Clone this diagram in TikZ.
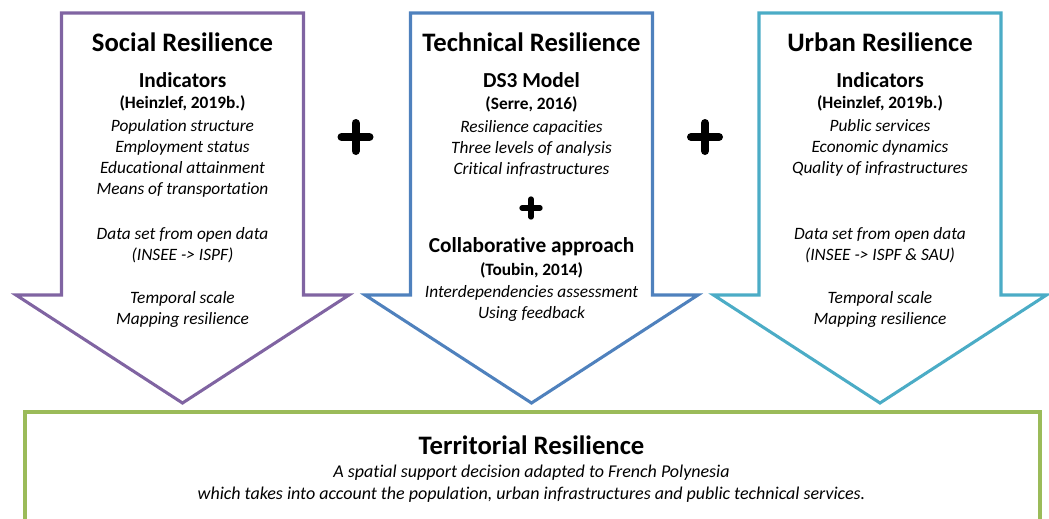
\documentclass[tikz,border=0pt]{standalone}
\usepackage{fontspec}
\setmainfont{Carlito}[Ligatures=NoCommon]
\usepackage{xcolor}
\definecolor{socialpurple}{HTML}{8064A2}
\definecolor{techblue}{HTML}{4F81BD}
\definecolor{urbancyan}{HTML}{4BACC6}
\definecolor{terrgreen}{HTML}{9BBB59}
\tikzset{
  title/.style={font=\fontsize{20}{24}\selectfont\bfseries},
  head/.style={font=\fontsize{16}{19}\selectfont\bfseries},
  cite/.style={font=\fontsize{13}{16}\selectfont\bfseries},
  item/.style={font=\fontsize{13}{15.75}\selectfont\itshape, align=center},
  plussign/.style={line width=6pt, line cap=round},
}

\begin{document}
\begin{tikzpicture}[x=0.75pt,y=-0.75pt]
\useasboundingbox (0,0) rectangle (1049,518);
% the three arrows
\foreach \cx/\col in {182.5/socialpurple,531.5/techblue,880/urbancyan}
\draw[\col,line width=2.3pt,line join=miter] (\cx-121,13) -- (\cx+121,13) -- (\cx+121,295) -- (\cx+166.5,295) -- (\cx,403) -- (\cx-166.5,295) -- (\cx-121,295) -- cycle;
% territorial box, open at the bottom
\draw[terrgreen,line width=2.4pt] (25,540) -- (25,412) -- (1040,412) -- (1040,540);
% plus signs
\foreach \px in {355.5,705}
\draw[plussign] (\px-14,137) -- (\px+14,137) (\px,123) -- (\px,151);
\draw[line width=4pt,line cap=round] (522,208) -- (540,208) (531,199) -- (531,217);

% social
\node[title] (socT) at (182.5,42) {Social Resilience};
\node[head] (socH) at (182.5,80) {Indicators};
\node[cite] (socC) at (182.5,103) {(Heinzlef, 2019b.)};
\node[item] (socI) at (182.5,158.5) {Population structure\\Employment status\\Educational attainment\\Means of transportation};
\node[item] (socD) at (182.5,245.5) {Data set from open data\\(INSEE -> ISPF)};
\node[item] (socM) at (182.5,309) {Temporal scale\\Mapping resilience};

% technical
\node[title] (techT) at (531.5,42) {Technical Resilience};
\node[head] (techH) at (531.5,80) {DS3 Model};
\node[cite] (techC) at (531.5,104) {(Serre, 2016)};
\node[item] (techI) at (531.5,148) {Resilience capacities\\Three levels of analysis\\Critical infrastructures};
\node[head] (techH2) at (531.5,247) {Collaborative approach};
\node[cite] (techC2) at (531.5,270) {(Toubin, 2014)};
\node[item] (techI2) at (531.5,303.5) {Interdependencies assessment\\Using feedback};

% urban
\node[title] (urbT) at (880,42) {Urban Resilience};
\node[head] (urbH) at (880,80) {Indicators};
\node[cite] (urbC) at (880,103) {(Heinzlef, 2019b.)};
\node[item] (urbI) at (880,148) {Public services\\Economic dynamics\\Quality of infrastructures};
\node[item] (urbD) at (880,245.5) {Data set from open data\\(INSEE -> ISPF \& SAU)};
\node[item] (urbM) at (880,309) {Temporal scale\\Mapping resilience};

% territorial
\node[title] (terT) at (531.5,445) {Territorial Resilience};
\node[item,font=\fontsize{13.5}{16.5}\selectfont\itshape] (terI) at (531.5,484) {A spatial support decision adapted to French Polynesia\\which takes into account the population,\ urban infrastructures and public technical services.};
\end{tikzpicture}
\end{document}
